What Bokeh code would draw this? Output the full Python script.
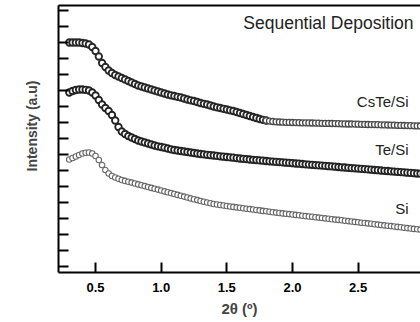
import numpy as np
from bokeh.plotting import figure
from bokeh.models import Range1d, FixedTicker, LinearAxis, Title, Label
from bokeh.embed import file_html
from bokeh.resources import INLINE

# Scattering angle grid (degrees 2-theta)
two_theta = np.round(np.arange(0.300, 3.0001, 0.025), 3)

# Reflected intensity, arbitrary units (curves are offset vertically)
cste_si = [
    224, 224, 224, 224,
    223.5, 223, 222, 219.5,
    215.5, 210, 203.5, 199.5,
    196, 193.5, 191.5, 190,
    188.5, 187, 185.5, 184,
    182.5, 181, 180, 179,
    178, 177, 176, 175,
    174, 173, 172, 171.2,
    170.5, 169.7, 169, 168,
    167, 166.2, 165.5, 164.5,
    163.5, 162.7, 162, 161,
    160, 159.2, 158.5, 157.7,
    157, 156.2, 155.5, 154.5,
    153.5, 152.5, 151.5, 150.5,
    149.5, 148.5, 147.5, 146.7,
    146, 145.4, 145, 144.7,
    144.5, 144.3, 144.2, 144.1,
    144, 143.9, 143.8, 143.7,
    143.7, 143.6, 143.5, 143.4,
    143.3, 143.2, 143.1, 143.1,
    143.0, 142.9, 142.8, 142.7,
    142.6, 142.5, 142.5, 142.4,
    142.3, 142.2, 142.1, 142.0,
    141.9, 141.9, 141.8, 141.7,
    141.6, 141.5, 141.4, 141.3,
    141.2, 141.1, 141.0, 140.9,
    140.8, 140.7, 140.6, 140.5,
    140.4,
]

te_si = [
    174, 175.5, 176.5, 177,
    177, 176.7, 176, 174,
    171, 166.5, 162, 158.5,
    155.5, 151.5, 146, 139.5,
    135, 132.5, 130.5, 129,
    127.5, 126, 125, 124,
    123, 122, 121, 120.2,
    119.5, 118.8, 118, 117.2,
    116.5, 116, 115.5, 115,
    114.5, 114, 113.5, 113,
    112.5, 112.1, 111.7, 111.3,
    111, 110.6, 110.2, 109.8,
    109.5, 109.1, 108.8, 108.4,
    108, 107.7, 107.4, 107,
    106.7, 106.4, 106.1, 105.8,
    105.5, 105.2, 104.9, 104.6,
    104.4, 104.1, 103.8, 103.6,
    103.3, 103.0, 102.8, 102.5,
    102.2, 101.9, 101.7, 101.4,
    101.1, 100.9, 100.6, 100.3,
    100.1, 99.8, 99.5, 99.2,
    99.0, 98.7, 98.4, 98.2,
    97.9, 97.6, 97.4, 97.1,
    96.8, 96.5, 96.3, 96.0,
    95.7, 95.5, 95.2, 94.9,
    94.7, 94.4, 94.1, 93.8,
    93.6, 93.3, 93.0, 92.8,
    92.5,
]

si = [
    107, 108.5, 110, 111.5,
    113, 113.8, 114, 113,
    110.5, 106.5, 101.5, 96.5,
    93, 90.5, 89, 87.7,
    86.5, 85.6, 84.7, 83.9,
    83, 82.1, 81.2, 80.4,
    79.5, 78.6, 77.7, 76.9,
    76, 75.1, 74.2, 73.4,
    72.5, 71.6, 70.7, 69.9,
    69, 68.1, 67.2, 66.4,
    65.5, 64.7, 64, 63.2,
    62.5, 62, 61.5, 61,
    60.5, 60, 59.6, 59.1,
    58.7, 58.3, 57.8, 57.4,
    57, 56.5, 56.1, 55.6,
    55.2, 54.8, 54.3, 53.9,
    53.5, 53.1, 52.7, 52.4,
    52, 51.6, 51.2, 50.8,
    50.4, 50.0, 49.7, 49.3,
    48.9, 48.5, 48.1, 47.7,
    47.3, 46.9, 46.6, 46.2,
    45.8, 45.4, 45.0, 44.6,
    44.2, 43.8, 43.5, 43.1,
    42.7, 42.3, 41.9, 41.5,
    41.1, 40.7, 40.4, 40.0,
    39.6, 39.2, 38.8, 38.4,
    38.0, 37.6, 37.3, 36.9,
    36.5,
]

x_ticks = [0.5, 1.0, 1.5, 2.0, 2.5, 3.0]
y_ticks = list(range(0, 257, 16))

series_names = ["CsTe/Si", "Te/Si", "Si"]
name_x = [2.884, 2.884, 2.884]
name_y = [165, 117, 58]

FONT = "Liberation Sans"

p = figure(width=420, height=322, output_backend="svg", toolbar_location=None,
           x_range=Range1d(0.218, 2.975), y_range=Range1d(-6, 261),
           min_border_left=58, min_border_right=0, min_border_top=5,
           min_border_bottom=50)
p.background_fill_color = "white"
p.border_fill_color = "white"
p.outline_line_color = None
p.grid.visible = False

# bottom axis
xa = p.xaxis[0]
xa.ticker = FixedTicker(ticks=x_ticks)
xa.major_label_overrides = {t: f"{t:.1f}" for t in x_ticks}
xa.axis_line_width = 2
xa.major_tick_in = 10
xa.major_tick_out = 0
xa.major_tick_line_width = 2
xa.minor_tick_line_color = None
xa.major_label_standoff = 10
xa.major_label_text_font = FONT
xa.major_label_text_font_style = "bold"
xa.major_label_text_font_size = "13px"
xa.major_label_text_color = "black"
xa.axis_label = "2θ (º)"
xa.axis_label_text_font = FONT
xa.axis_label_text_font_style = "bold"
xa.axis_label_text_font_size = "15px"
xa.axis_label_standoff = 5

# left axis: ticks only
ya = p.yaxis[0]
ya.ticker = FixedTicker(ticks=y_ticks)
ya.major_label_overrides = {t: "" for t in y_ticks}
ya.axis_line_width = 2
ya.major_tick_in = 10
ya.major_tick_out = 0
ya.major_tick_line_width = 2
ya.minor_tick_line_color = None
ya.major_label_standoff = 0

# top frame line
top = LinearAxis(ticker=FixedTicker(ticks=[]), axis_line_width=2,
                 major_tick_out=0, major_tick_in=0, minor_tick_line_color=None,
                 major_label_text_font_size="0px", major_label_standoff=0)
p.add_layout(top, "above")

p.add_layout(Title(text="Intensity (a.u)", align="left", offset=101,
                   text_font=FONT, text_font_style="bold",
                   text_font_size="14px", standoff=38), "left")

# curves
cut = int(np.searchsorted(two_theta, 1.8))
p.scatter(two_theta[:cut + 1], cste_si[:cut + 1], marker="circle", size=6.5,
          fill_color="white", line_color="#262626", line_width=1.8)
p.scatter(two_theta[cut:], cste_si[cut:], marker="circle", size=6,
          fill_color="white", line_color="#4a4a4a", line_width=1.3)
p.scatter(two_theta, te_si, marker="circle", size=6.5,
          fill_color="white", line_color="#222222", line_width=1.8)
p.scatter(two_theta, si, marker="circle", size=5.5,
          fill_color="white", line_color="#666666", line_width=1.1)

for name, lx, ly in zip(series_names, name_x, name_y):
    p.add_layout(Label(x=lx, y=ly, text=name, text_align="right",
                       text_baseline="middle", text_font=FONT,
                       text_font_size="15px", text_color="#222222"))

p.add_layout(Label(x=2.922, y=244, text="Sequential Deposition",
                   text_align="right", text_baseline="middle",
                   text_font=FONT, text_font_size="17.5px",
                   text_color="#222222"))

open("out.html", "w").write(file_html(p, INLINE))
